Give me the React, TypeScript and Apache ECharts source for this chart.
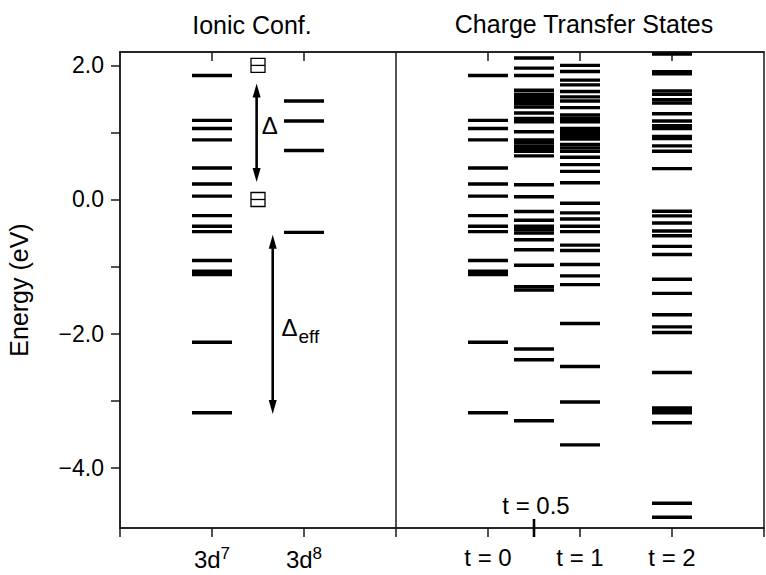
import React, { useEffect, useRef } from 'react';
import * as echarts from 'echarts';

// ---------- data ----------
const panelTitles = ['Ionic Conf.', 'Charge Transfer States'];
const xCategories = ['3d7', '3d8', 't = 0', 't = 0.5', 't = 1', 't = 2'];
const xCategoryValues = [1, 2, 4, 4.5, 5, 6];
const xTickValues = [0, 1, 2, 3, 4, 5, 6, 7];
const xLabelValues = [1, 2, 4, 5, 6];
const xTopTickValues = [1, 2, 4, 5, 6];
const panelDivider = 3;
const yTickValues = [-4, -3, -2, -1, 0, 1, 2];
const yLabelValues = [-4, -2, 0, 2];
const Y_MIN = -4.9;
const Y_MAX = 2.2;

const levels3d7 = [1.85, 1.18, 1.06, 0.89, 0.47, 0.23, 0.05, -0.24, -0.4, -0.48, -0.91, -1.07, -1.12, -2.13, -3.18];
const levels3d8 = [1.47, 1.17, 0.73, -0.49];
const levelsT0 = [1.85, 1.18, 1.06, 0.89, 0.47, 0.23, 0.05, -0.24, -0.4, -0.48, -0.91, -1.07, -1.12, -2.13, -3.18];
const levelsT05 = [2.11, 1.96, 1.85, 1.63, 1.57, 1.52, 1.48, 1.43, 1.38, 1.29, 1.21, 1.16, 1.01, 0.89, 0.85, 0.8, 0.76, 0.72, 0.65, 0.22, 0.04, -0.18, -0.31, -0.4, -0.45, -0.5, -0.6, -0.75, -0.98, -1.3, -1.35, -2.23, -2.39, -3.3];
const levelsT1 = [2.0, 1.91, 1.78, 1.71, 1.61, 1.53, 1.47, 1.37, 1.26, 1.21, 1.16, 1.06, 1.02, 0.98, 0.94, 0.9, 0.82, 0.77, 0.72, 0.63, 0.52, 0.42, 0.25, -0.055, -0.2, -0.29, -0.4, -0.48, -0.68, -0.76, -0.97, -1.14, -1.27, -1.85, -2.49, -3.02, -3.66];
const levelsT2 = [2.17, 1.905, 1.875, 1.62, 1.57, 1.49, 1.44, 1.28, 1.17, 1.1, 1.06, 0.94, 0.91, 0.8, 0.72, 0.46, -0.175, -0.245, -0.35, -0.47, -0.54, -0.7, -0.82, -1.19, -1.4, -1.72, -1.9, -1.985, -2.58, -3.11, -3.15, -3.18, -3.33, -4.53, -4.74];

const holeStates = [[1.5, 2.0], [1.5, 0.0]];
const gapArrows = [[1.485, 1.73, 0.26], [1.66, -0.527, -3.2]];
const gapLabels = [
  { x: 1.54, y: 1.1, main: 'Δ', sub: '' },
  { x: 1.755, y: -1.91, main: 'Δ', sub: 'eff' },
];

// ---------- styling ----------
const FONT = "'Liberation Sans', Arial, Helvetica, sans-serif";
const INK = '#1a1a1a';

function levelSeries(name: string, x: number, levels: number[], extra: any = {}) {
  return {
    type: 'scatter',
    name,
    silent: true,
    symbol: 'rect',
    symbolSize: [40, 3.4],
    itemStyle: { color: '#000', opacity: 1 },
    data: levels.map((e) => [x, e]),
    z: 3,
    ...extra,
  };
}

function fmtY(v: number) {
  if (v === 0) return '0.0';
  return (v < 0 ? '\u2212' : '') + Math.abs(v).toFixed(1);
}

function fmtX(v: number) {
  const i = xCategoryValues.indexOf(v);
  if (i < 0) return '';
  const s = xCategories[i];
  const m = /^3d(\d)$/.exec(s);
  return m ? `3d{sup|${m[1]}}` : s;
}

export default function App() {
  const ref = useRef<HTMLDivElement>(null);
  useEffect(() => {
    if (!ref.current) return;
    const chart = echarts.init(ref.current, undefined, { renderer: 'svg' });
    const catX = (name: string) => xCategoryValues[xCategories.indexOf(name)];
    const option: any = {
      animation: false,
      grid: {
        left: 120, right: 2, top: 52, bottom: 47,
        show: true, borderColor: INK, borderWidth: 1.5,
        outerBoundsMode: 'none',
      },
      graphic: [
        { type: 'text', x: 252, y: 25, style: { text: panelTitles[0], font: `25px ${FONT}`, fill: '#000', align: 'center', verticalAlign: 'middle' } },
        { type: 'text', x: 584, y: 24, style: { text: panelTitles[1], font: `25px ${FONT}`, fill: '#000', align: 'center', verticalAlign: 'middle' } },
      ],
      xAxis: [
        {
          type: 'value', position: 'bottom', min: 0, max: 7,
          axisLine: { show: true, onZero: false, lineStyle: { color: INK, width: 1.5 } },
          axisTick: { show: true, inside: false, length: 9, customValues: xTickValues, lineStyle: { color: INK, width: 1.5 } },
          axisLabel: {
            customValues: xLabelValues, formatter: fmtX, fontSize: 24, color: '#000', fontFamily: FONT, margin: 17,
            rich: { sup: { fontSize: 17, fontFamily: FONT, color: '#000', padding: [0, 0, 12, 0] } },
          },
          splitLine: { show: false },
        },
        {
          type: 'value', position: 'top', min: 0, max: 7,
          axisLine: { show: true, onZero: false, lineStyle: { color: INK, width: 1.5 } },
          axisTick: { show: true, inside: true, length: 9, customValues: xTopTickValues, lineStyle: { color: INK, width: 1.5 } },
          axisLabel: { show: false },
          splitLine: { show: false },
        },
      ],
      yAxis: {
        type: 'value', min: Y_MIN, max: Y_MAX,
        axisLine: { show: true, onZero: false, lineStyle: { color: INK, width: 1.5 } },
        axisTick: { show: true, inside: false, length: 9, customValues: yTickValues, lineStyle: { color: INK, width: 1.5 } },
        axisLabel: { customValues: yLabelValues, formatter: fmtY, fontSize: 23, color: '#000', fontFamily: FONT, margin: 16 },
        splitLine: { show: false },
        name: 'Energy (eV)', nameLocation: 'middle', nameGap: 89, nameRotate: 90,
        nameTextStyle: { fontSize: 25, fontFamily: FONT, color: '#000' },
      },
      series: [
        levelSeries('3d7', catX('3d7'), levels3d7, {
          markLine: {
            silent: true, symbol: 'none', label: { show: false },
            lineStyle: { color: INK, width: 1.5, type: 'solid' },
            data: [{ xAxis: panelDivider }],
          },
        }),
        levelSeries('3d8', catX('3d8'), levels3d8),
        levelSeries('t = 0', catX('t = 0'), levelsT0),
        levelSeries('t = 0.5', catX('t = 0.5'), levelsT05),
        levelSeries('t = 1', catX('t = 1'), levelsT1),
        levelSeries('t = 2', catX('t = 2'), levelsT2),
        {
          type: 'custom', name: 'holes', silent: true,
          data: holeStates,
          renderItem: (params: any, api: any) => {
            const p = api.coord([api.value(0), api.value(1)]);
            const s = 14;
            return {
              type: 'group',
              children: [
                { type: 'rect', shape: { x: p[0] - s / 2, y: p[1] - s / 2, width: s, height: s }, style: { fill: 'none', stroke: '#000', lineWidth: 1.3 } },
                { type: 'line', shape: { x1: p[0] - s / 2, y1: p[1], x2: p[0] + s / 2, y2: p[1] }, style: { stroke: '#000', lineWidth: 1.3 } },
              ],
            };
          },
        },
        {
          type: 'custom', name: 'arrows', silent: true,
          data: gapArrows,
          renderItem: (params: any, api: any) => {
            const a = api.coord([api.value(0), api.value(1)]);
            const b = api.coord([api.value(0), api.value(2)]);
            const hl = 14, hw = 4;
            return {
              type: 'group',
              children: [
                { type: 'line', shape: { x1: a[0], y1: a[1] + hl - 2, x2: b[0], y2: b[1] - hl + 2 }, style: { stroke: '#000', lineWidth: 2.6 } },
                { type: 'polygon', shape: { points: [[a[0], a[1]], [a[0] - hw, a[1] + hl], [a[0] + hw, a[1] + hl]] }, style: { fill: '#000' } },
                { type: 'polygon', shape: { points: [[b[0], b[1]], [b[0] - hw, b[1] - hl], [b[0] + hw, b[1] - hl]] }, style: { fill: '#000' } },
              ],
            };
          },
        },
        {
          type: 'custom', name: 'gapLabels', silent: true,
          data: gapLabels.map((g, i) => [g.x, g.y, i]),
          renderItem: (params: any, api: any) => {
            const p = api.coord([api.value(0), api.value(1)]);
            const g = gapLabels[api.value(2)];
            const children: any[] = [
              { type: 'text', x: p[0], y: p[1], style: { text: g.main, font: `24px ${FONT}`, fill: '#000', align: 'left', verticalAlign: 'middle' } },
            ];
            if (g.sub) {
              children.push({ type: 'text', x: p[0] + 17, y: p[1] + 9, style: { text: g.sub, font: `19px ${FONT}`, fill: '#000', align: 'left', verticalAlign: 'middle' } });
            }
            return { type: 'group', children };
          },
        },
        {
          type: 'custom', name: 'midTick', silent: true, clip: false,
          data: [[catX('t = 0.5'), Y_MIN]],
          renderItem: (params: any, api: any) => {
            const p = api.coord([api.value(0), api.value(1)]);
            return {
              type: 'group',
              children: [
                { type: 'line', shape: { x1: p[0], y1: p[1] - 9, x2: p[0], y2: p[1] + 9 }, style: { stroke: '#000', lineWidth: 2.6 } },
                { type: 'text', x: p[0] + 2, y: p[1] - 23, style: { text: 't = 0.5', font: `24px ${FONT}`, fill: '#000', align: 'center', verticalAlign: 'middle' } },
              ],
            };
          },
        },
      ],
    };
    chart.setOption(option);
    return () => chart.dispose();
  }, []);
  return <div ref={ref} style={{ position: 'fixed', left: 0, top: 0, width: 766, height: 575, background: '#fff' }} />;
}
